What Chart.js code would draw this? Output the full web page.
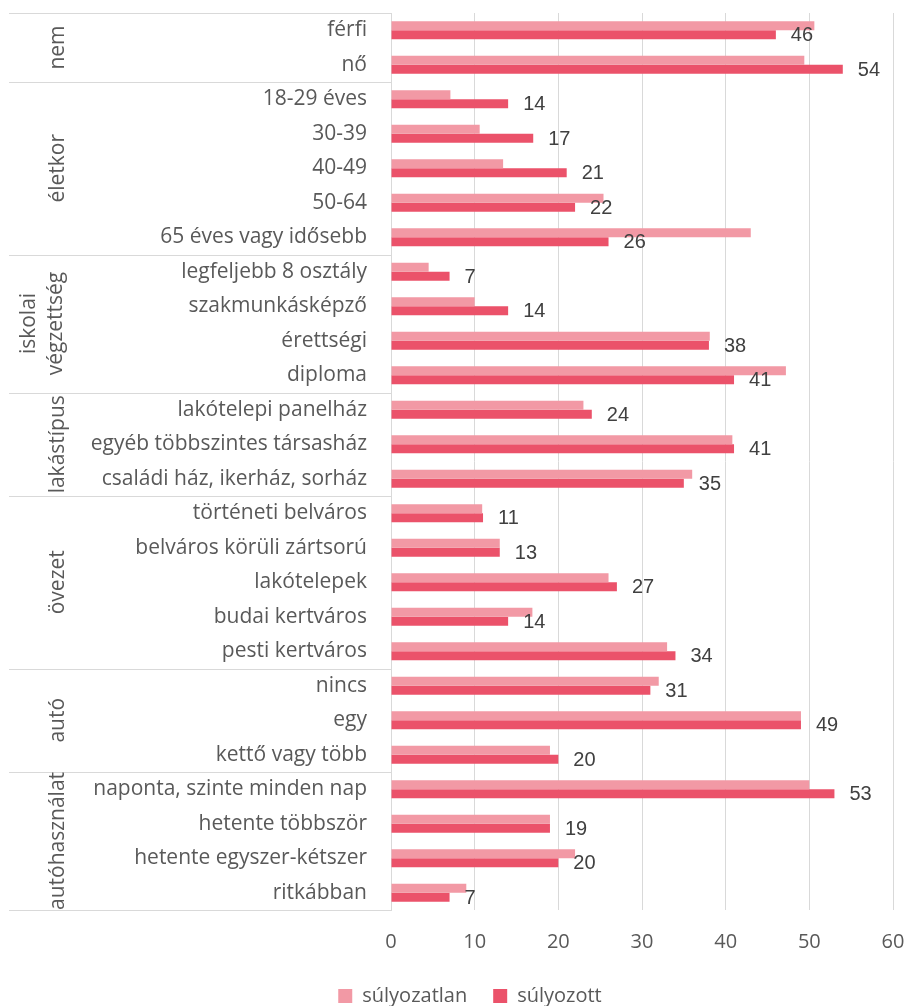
<!DOCTYPE html>
<html>
<head>
<meta charset="utf-8">
<script src="https://cdn.jsdelivr.net/npm/chart.js@4.4.0/dist/chart.umd.min.js"></script>
<style>
  body { margin: 0; background: #fff; }
</style>
</head>
<body>
<canvas id="chart" width="908" height="1006"></canvas>
<script>
var categories = [
  "férfi", "nő",
  "18-29 éves", "30-39", "40-49", "50-64", "65 éves vagy idősebb",
  "legfeljebb 8 osztály", "szakmunkásképző", "érettségi", "diploma",
  "lakótelepi panelház", "egyéb többszintes társasház", "családi ház, ikerház, sorház",
  "történeti belváros", "belváros körüli zártsorú", "lakótelepek", "budai kertváros", "pesti kertváros",
  "nincs", "egy", "kettő vagy több",
  "naponta, szinte minden nap", "hetente többször", "hetente egyszer-kétszer", "ritkábban"
];
var groupNames = [["nem"], ["életkor"], ["iskolai", "végzettség"], ["lakástípus"], ["övezet"], ["autó"], ["autóhasználat"]];
var groupSizes = [2, 5, 4, 3, 5, 3, 4];

var unweighted = [50.6, 49.4, 7.1, 10.6, 13.4, 25.4, 43, 4.5, 10, 38.1, 47.2, 23, 40.8, 36, 10.9, 13, 26, 16.9, 33, 32, 49, 19, 50, 19, 22, 9];
var weighted = [46, 54, 14, 17, 21, 22, 26, 7, 14, 38, 41, 24, 41, 35, 11, 13, 27, 14, 34, 31, 49, 20, 53, 19, 20, 7];
var weightedLabels = [46, 54, 14, 17, 21, 22, 26, 7, 14, 38, 41, 24, 41, 35, 11, 13, 27, 14, 34, 31, 49, 20, 53, 19, 20, 7];
var xTicks = [0, 10, 20, 30, 40, 50, 60];

var labelFont = "Open Sans";
var labelSize = 21;
var smallSize = 20;

// group labels + separator lines on the left
var groupPlugin = {
  id: "groups",
  afterDraw: function (chart) {
    var ctx = chart.ctx;
    var y = chart.scales.y;
    var area = chart.chartArea;
    var bounds = [area.top];
    var idx = 0;
    groupSizes.forEach(function (n) {
      idx += n;
      if (idx < categories.length) {
        bounds.push((y.getPixelForValue(idx - 1) + y.getPixelForValue(idx)) / 2);
      } else {
        bounds.push(area.bottom);
      }
    });
    ctx.save();
    ctx.strokeStyle = "#d9d9d9";
    ctx.lineWidth = 1;
    bounds.forEach(function (b) {
      ctx.beginPath();
      ctx.moveTo(9, Math.round(b) + 0.5);
      ctx.lineTo(area.left, Math.round(b) + 0.5);
      ctx.stroke();
    });
    ctx.fillStyle = "#595959";
    ctx.font = labelSize + "px " + labelFont;
    ctx.textAlign = "center";
    ctx.textBaseline = "alphabetic";
    groupNames.forEach(function (lines, g) {
      var cy = (bounds[g] + bounds[g + 1]) / 2;
      lines.forEach(function (t, k) {
        var bx = lines.length === 1 ? 64 : 35 + k * 27;
        ctx.save();
        ctx.translate(bx, cy);
        ctx.rotate(-Math.PI / 2);
        ctx.fillText(t, 0, 0);
        ctx.restore();
      });
    });
    ctx.restore();
  }
};

// value labels for súlyozott
var valuePlugin = {
  id: "values",
  afterDatasetsDraw: function (chart) {
    var ctx = chart.ctx;
    var meta = chart.getDatasetMeta(1);
    ctx.save();
    ctx.fillStyle = "#404040";
    ctx.font = "20px 'Liberation Sans'";
    ctx.textAlign = "left";
    ctx.textBaseline = "middle";
    meta.data.forEach(function (bar, i) {
      ctx.fillText(weightedLabels[i], bar.x + 15, bar.y + 1);
    });
    ctx.restore();
  }
};

new Chart(document.getElementById("chart"), {
  type: "bar",
  data: {
    labels: categories,
    datasets: [
      { label: "súlyozatlan", data: unweighted, backgroundColor: "#F299A5" },
      { label: "súlyozott", data: weighted, backgroundColor: "#EB526A" }
    ]
  },
  options: {
    indexAxis: "y",
    responsive: false,
    animation: false,
    devicePixelRatio: 1,
    layout: { padding: { top: 13, left: 47, right: 15, bottom: -10 } },
    datasets: { bar: { barPercentage: 1, categoryPercentage: 0.52 } },
    scales: {
      x: {
        min: 0,
        max: 60,
        afterBuildTicks: function (scale) {
          scale.ticks = xTicks.map(function (v) { return { value: v }; });
        },
        afterFit: function (scale) {
          scale.height = 50;
          scale.paddingLeft = 0;
          scale.paddingRight = 0;
        },
        grid: { color: "#d9d9d9", lineWidth: 1, drawTicks: false },
        border: { display: false },
        ticks: { color: "#595959", font: { family: labelFont, size: smallSize }, padding: 20 }
      },
      y: {
        afterFit: function (scale) {
          scale.width = 391 - 47;
          scale.paddingTop = 0;
          scale.paddingBottom = 0;
        },
        grid: { display: false, drawTicks: false },
        border: { display: true, color: "#d9d9d9" },
        ticks: { color: "#595959", font: { family: labelFont, size: labelSize }, padding: 24, autoSkip: false }
      }
    },
    plugins: {
      legend: {
        position: "bottom",
        labels: {
          boxWidth: 14,
          boxHeight: 14,
          padding: 26,
          color: "#595959",
          font: { family: labelFont, size: smallSize }
        }
      },
      tooltip: { enabled: false }
    }
  },
  plugins: [groupPlugin, valuePlugin]
});
</script>
</body>
</html>
